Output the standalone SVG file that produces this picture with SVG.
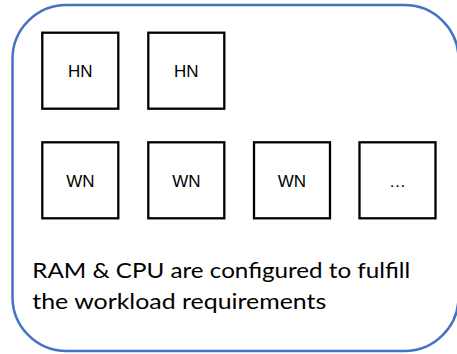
<svg xmlns="http://www.w3.org/2000/svg" width="457" height="354" viewBox="0 0 457 354">
  <style>
    .frame { fill: #ffffff; stroke: #4472C4; stroke-width: 2.5; }
    .node rect { fill: #ffffff; stroke: #000000; stroke-width: 2.3; }
    .node text { font-family: "Liberation Sans", Arial, sans-serif; font-size: 17px; fill: #000000; text-anchor: middle; }
    .note { font-family: Lato, "Liberation Sans", sans-serif; font-size: 20.5px; fill: #000000; }
  </style>
  <rect width="457" height="354" fill="#ffffff"/>
  <!-- cluster outline -->
  <rect class="frame" x="12.5" y="5" width="446" height="346" rx="54" ry="54"/>

  <!-- head nodes -->
  <g id="hn1" class="node">
    <rect x="42.3" y="32.7" width="76" height="76"/>
    <text x="80.3" y="77">HN</text>
  </g>
  <g id="hn2" class="node">
    <rect x="148.3" y="32.7" width="76" height="76"/>
    <text x="186.3" y="77">HN</text>
  </g>

  <!-- worker nodes -->
  <g id="wn1" class="node">
    <rect x="42.3" y="142.3" width="76" height="76"/>
    <text x="80.3" y="186.5">WN</text>
  </g>
  <g id="wn2" class="node">
    <rect x="148.3" y="142.3" width="76" height="76"/>
    <text x="186.3" y="186.5">WN</text>
  </g>
  <g id="wn3" class="node">
    <rect x="254" y="142.3" width="76" height="76"/>
    <text x="292" y="186.5">WN</text>
  </g>
  <g id="more" class="node">
    <rect x="359.5" y="142.3" width="76" height="76"/>
    <text x="397.5" y="186.5">…</text>
  </g>

  <g id="connectors"></g>

  <!-- caption -->
  <text class="note" x="32.3" y="277.5" textLength="378" lengthAdjust="spacingAndGlyphs">RAM &amp; CPU are configured to fulfill</text>
  <text class="note" x="32.3" y="308.5" textLength="294" lengthAdjust="spacingAndGlyphs">the workload requirements</text>
</svg>
